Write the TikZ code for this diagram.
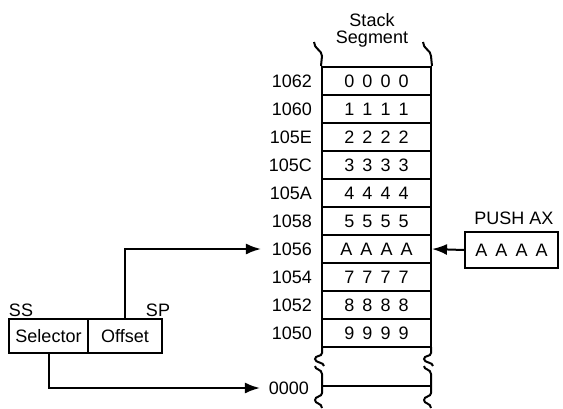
\documentclass[tikz,border=0pt]{standalone}
\usepackage{fontspec}
\setmainfont{Liberation Sans}
\usetikzlibrary{arrows.meta}
\newcommand\fourx[1]{#1\hspace{0.45em}#1\hspace{0.45em}#1\hspace{0.45em}#1}
\begin{document}
\begin{tikzpicture}[x=1pt,y=-1pt,
  font=\fontsize{18}{17}\selectfont,
  line width=2pt,
  cell/.style={draw, minimum width=109pt, minimum height=28pt, inner sep=0pt},
  addr/.style={anchor=east, inner sep=0pt},
  reg/.style={draw, minimum height=34pt, inner sep=0pt},
  arr/.style={-{Latex[length=15pt,width=11pt]}},
  brk/.style={line width=2pt}]
\fill[white] (0,0) rectangle (563,408);
\useasboundingbox (0,0) rectangle (563,408);

\node[align=center] (ttl) at (372,30) {Stack\\Segment};

\foreach \i/\a/\v in {0/1062/0,1/1060/1,2/105E/2,3/105C/3,4/105A/4,5/1058/5,6/1056/A,7/1054/7,8/1052/8,9/1050/9}{
  \node[cell] (r\i) at (376.5,{81+28*\i}) {\fourx{\v}};
  \node[addr] (l\i) at (313,{81+28*\i}) {\a};
}

% top curls
\draw[brk] (r0.north west) -- (322,56) .. controls (322,50) and (314,49) .. (314,42);
\draw[brk] (r0.north east) -- (431,56) .. controls (431,50) and (423,49) .. (423,42);

% middle breaks and bottom
\foreach \x in {322,431}{
  \draw[brk] (\x,347) -- (\x,353) .. controls (\x,357) and ({\x-7},355) .. ({\x-7},359) .. controls ({\x-7},363) and ({\x+2},362) .. ({\x+2},366);
  \draw[brk] ({\x-7},366) .. controls ({\x-7},370) and (\x,369) .. (\x,374) -- (\x,393) .. controls (\x,397) and ({\x-7},396) .. ({\x-7},400) .. controls ({\x-7},404) and (\x,403) .. (\x,408);
}
\coordinate (zl) at (322,386);
\coordinate (zr) at (431,386);
\draw (zl) -- (zr);
\node[addr] (lz) at (310,388) {0000};

% registers
\node[reg, minimum width=79pt] (sel) at (48.5,336) {Selector};
\node[reg, minimum width=74pt] (off) at (125,336) {Offset};
\node (ss) at (21,310) {SS};
\node (sp) at (158,310) {SP};

\draw[arr] (off.north) |- ([xshift=-10pt]l6.west);
\draw[arr] (sel.south) |- ([xshift=-8pt]lz.west);

% push
\node[draw, minimum width=93pt, minimum height=36pt, inner sep=0pt] (push) at (511.5,250) {\fourx{A}};
\node (pl) at (514,218) {PUSH AX};
\draw[arr] (push.west) -- (r6.east);
\end{tikzpicture}
\end{document}
